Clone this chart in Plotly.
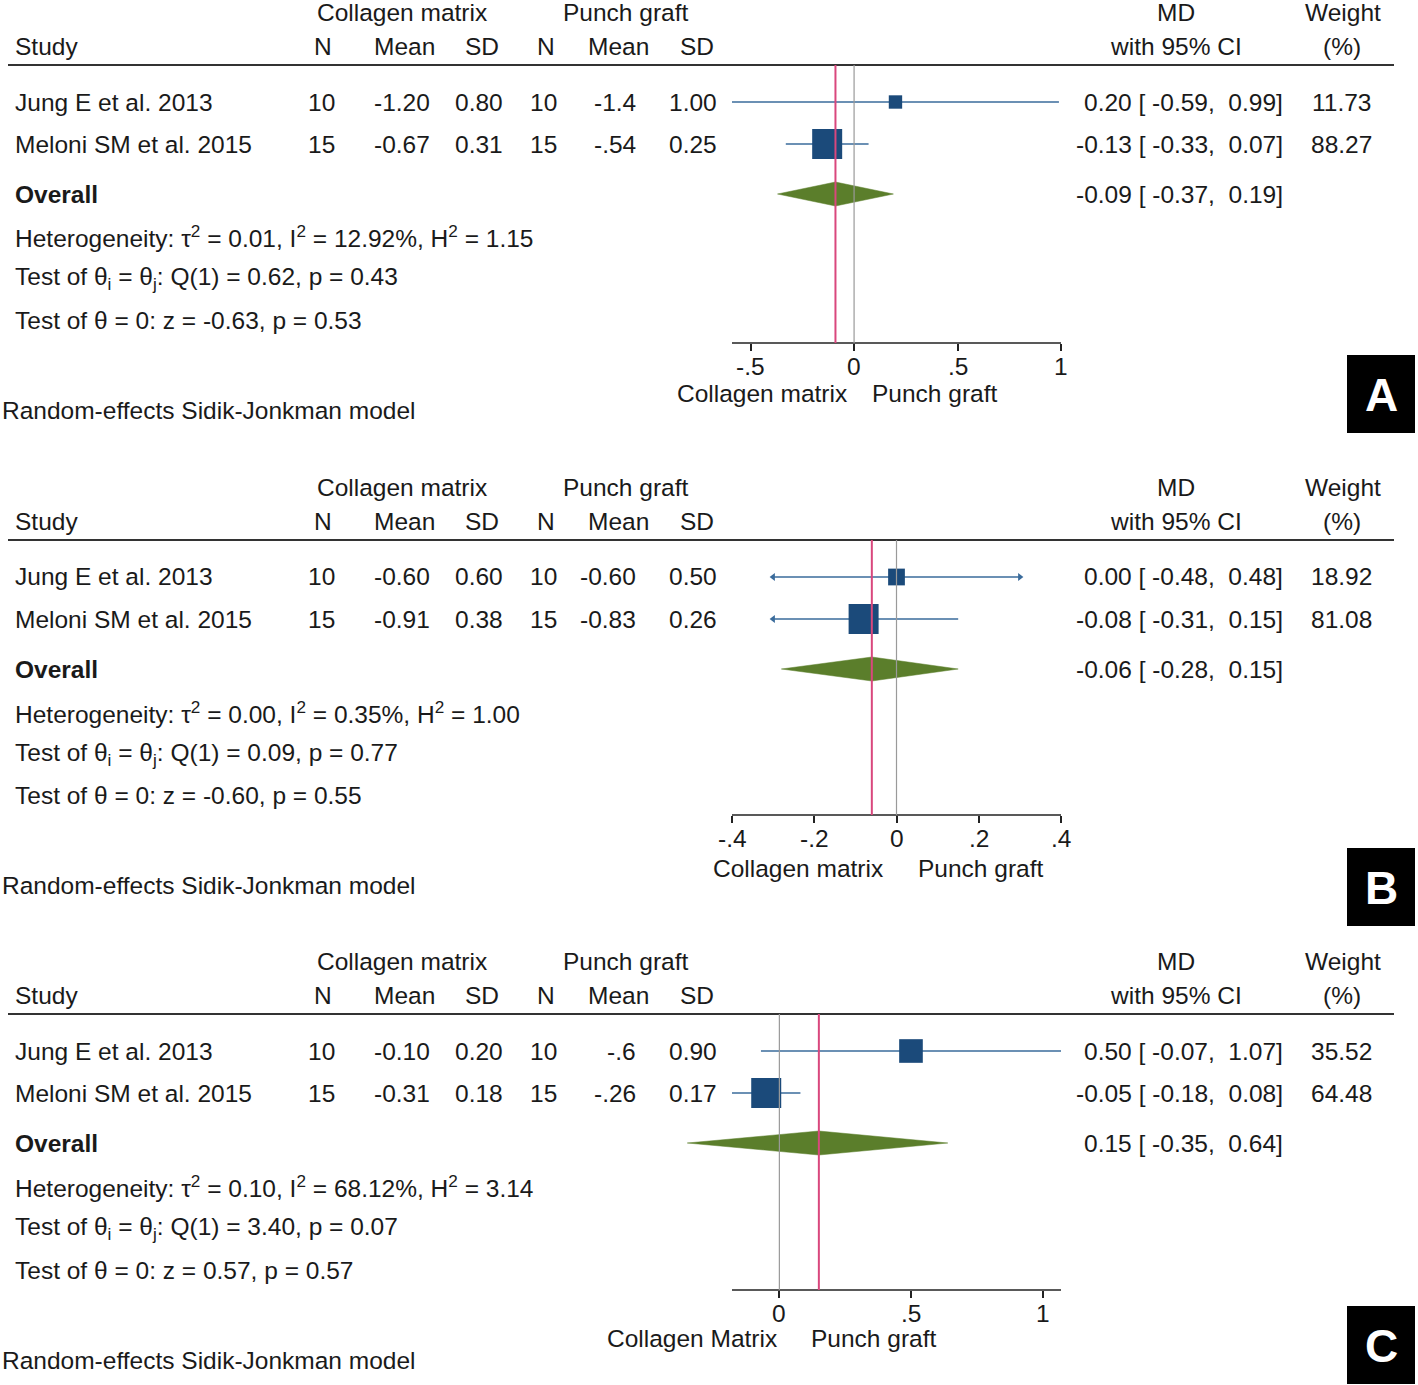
import plotly.graph_objects as go

W, H = 1418, 1385
FONT = "Liberation Sans, Arial, Helvetica, sans-serif"
TXT = "#1a1a1a"
FS = 24.5

# ---------------- data ----------------
studies = ["Jung E et al. 2013", "Meloni SM et al. 2015"]
panel_letters = ["A", "B", "C"]

cm_n = [[10, 15], [10, 15], [10, 15]]
cm_mean = [["-1.20", "-0.67"], ["-0.60", "-0.91"], ["-0.10", "-0.31"]]
cm_sd = [["0.80", "0.31"], ["0.60", "0.38"], ["0.20", "0.18"]]
pg_n = [[10, 15], [10, 15], [10, 15]]
pg_mean = [["-1.4", "-.54"], ["-0.60", "-0.83"], ["-.6", "-.26"]]
pg_sd = [["1.00", "0.25"], ["0.50", "0.26"], ["0.90", "0.17"]]

md = [[0.20, -0.13], [0.00, -0.08], [0.50, -0.05]]
md_lo = [[-0.59, -0.33], [-0.48, -0.31], [-0.07, -0.18]]
md_hi = [[0.99, 0.07], [0.48, 0.15], [1.07, 0.08]]
weights = [[11.73, 88.27], [18.92, 81.08], [35.52, 64.48]]

overall = [-0.09, -0.06, 0.15]
overall_lo = [-0.37, -0.28, -0.35]
overall_hi = [0.19, 0.15, 0.64]

tau2 = ["0.01", "0.00", "0.10"]
i2 = ["12.92", "0.35", "68.12"]
h2 = ["1.15", "1.00", "3.14"]
q_stat = ["0.62", "0.09", "3.40"]
q_p = ["0.43", "0.77", "0.07"]
z_stat = ["-0.63", "-0.60", "0.57"]
z_p = ["0.53", "0.55", "0.57"]

axis_ranges = [[-0.59, 1.0], [-0.4, 0.4], [-0.18, 1.07]]
tick_vals = [[-0.5, 0, 0.5, 1], [-0.4, -0.2, 0, 0.2, 0.4], [0, 0.5, 1]]
tick_text = [["-.5", "0", ".5", "1"], ["-.4", "-.2", "0", ".2", ".4"], ["0", ".5", "1"]]
favours_left = ["Collagen matrix", "Collagen matrix", "Collagen Matrix"]
favours_right = ["Punch graft", "Punch graft", "Punch graft"]
ci_clip = [[-1e9, 1e9], [-0.3, 0.3], [-1e9, 1e9]]

# ---------------- layout constants (pixels) ----------------
rule_y = [65, 540, 1014]
axis_y = [343, 815, 1290]
fav_y = [393, 868, 1338]
model_y = [410, 885, 1360]
box_y = [355, 848, 1306]
fav_shift = [(-5, 16), (-12, 19), (0, 30)]
PLOT_X0, PLOT_X1 = 732, 1061
PAD = 80  # extra drawing room (px) on both sides of the axis line
TPAD = 2  # compensate annotation inner padding


def PX(x):
    return x / W


def PY(y):
    return 1 - y / H


fig = go.Figure()
annotations = []
shapes = []


def txt(x, y, s, anchor="left", size=FS, color=TXT):
    if anchor == "left":
        x -= TPAD
    elif anchor == "right":
        x += TPAD
    annotations.append(dict(
        x=PX(x), y=PY(y), xref="paper", yref="paper", text=s, showarrow=False,
        xanchor=anchor, yanchor="middle", font=dict(family=FONT, size=size, color=color)))


BLUE_LINE = "#3a6b9b"
BLUE_BOX = "#1b4a7a"
GREEN = "#5b7e2b"
PINK = "#d9477d"
GRAY = "#9a9a9a"

for p in range(3):
    r = rule_y[p]
    sfx = "" if p == 0 else str(p + 1)
    xa, ya = "x" + sfx, "y" + sfx
    rows = [r + 37, r + 79]
    row_overall = r + 129

    # headers
    txt(402, r - 53, "Collagen matrix", "center")
    txt(625, r - 53, "Punch graft", "center")
    txt(1176, r - 53, "MD", "center")
    txt(1343, r - 53, "Weight", "center")
    txt(15, r - 19, "Study")
    txt(323, r - 19, "N", "center")
    txt(404, r - 19, "Mean", "center")
    txt(482, r - 19, "SD", "center")
    txt(546, r - 19, "N", "center")
    txt(618, r - 19, "Mean", "center")
    txt(697, r - 19, "SD", "center")
    txt(1176, r - 19, "with 95% CI", "center")
    txt(1342, r - 19, "(%)", "center")
    shapes.append(dict(type="line", xref="paper", yref="paper", x0=PX(8), x1=PX(1394),
                       y0=PY(r), y1=PY(r), line=dict(color="#333333", width=2)))

    # study rows
    for i, s in enumerate(studies):
        y = rows[i]
        txt(15, y, s)
        txt(335, y, str(cm_n[p][i]), "right")
        txt(430, y, cm_mean[p][i], "right")
        txt(503, y, cm_sd[p][i], "right")
        txt(557, y, str(pg_n[p][i]), "right")
        txt(636, y, pg_mean[p][i], "right")
        txt(717, y, pg_sd[p][i], "right")
        txt(1283, y, f"{md[p][i]:.2f} [ {md_lo[p][i]:.2f},\u00a0\u00a0{md_hi[p][i]:.2f}]", "right")
        txt(1372, y, f"{weights[p][i]:.2f}", "right")

    txt(15, row_overall, "<b>Overall</b>")
    txt(1283, row_overall, f"{overall[p]:.2f} [ {overall_lo[p]:.2f},\u00a0\u00a0{overall_hi[p]:.2f}]", "right")
    txt(15, r + 172, f"Heterogeneity: τ<sup>2</sup> = {tau2[p]}, I<sup>2</sup> = {i2[p]}%, H<sup>2</sup> = {h2[p]}")
    txt(15, r + 214, f"Test of θ<sub>i</sub> = θ<sub>j</sub>: Q(1) = {q_stat[p]}, p = {q_p[p]}")
    txt(15, r + 256, f"Test of θ = 0: z = {z_stat[p]}, p = {z_p[p]}")
    txt(2, model_y[p], "Random-effects Sidik-Jonkman model")

    # favours labels
    dl, dr = fav_shift[p]
    annotations.append(dict(x=0, y=PY(fav_y[p]), xref=xa, yref="paper", text=favours_left[p],
                            showarrow=False, xanchor="right", yanchor="middle", xshift=dl,
                            font=dict(family=FONT, size=FS, color=TXT)))
    annotations.append(dict(x=0, y=PY(fav_y[p]), xref=xa, yref="paper", text=favours_right[p],
                            showarrow=False, xanchor="left", yanchor="middle", xshift=dr,
                            font=dict(family=FONT, size=FS, color=TXT)))

    # tick labels
    for tv, tt in zip(tick_vals[p], tick_text[p]):
        annotations.append(dict(x=tv, y=PY(axis_y[p] + 23), xref=xa, yref="paper", text=tt,
                                showarrow=False, xanchor="center", yanchor="middle",
                                font=dict(family=FONT, size=FS, color=TXT)))

    # axis line
    lo_ax, hi_ax = axis_ranges[p]
    shapes.append(dict(type="line", xref=xa, yref="paper", x0=lo_ax, x1=hi_ax,
                       y0=PY(axis_y[p]), y1=PY(axis_y[p]), line=dict(color="#222222", width=1.5)))

    # letter box
    shapes.append(dict(type="rect", xref="paper", yref="paper", x0=PX(1347), x1=PX(1415),
                       y0=PY(box_y[p] + 78), y1=PY(box_y[p]), fillcolor="black", line=dict(width=0)))
    annotations.append(dict(x=PX(1381), y=PY(box_y[p] + 40), xref="paper", yref="paper",
                            text=f"<b>{panel_letters[p]}</b>", showarrow=False, xanchor="center",
                            yanchor="middle", font=dict(family=FONT, size=46, color="white")))

    # CI lines & arrows
    wmax = max(weights[p])
    for i in range(2):
        lo = max(md_lo[p][i], ci_clip[p][0])
        hi = min(md_hi[p][i], ci_clip[p][1])
        fig.add_trace(go.Scatter(x=[lo, hi], y=[rows[i], rows[i]], mode="lines", xaxis=xa, yaxis=ya,
                                 line=dict(color=BLUE_LINE, width=1.6), showlegend=False, hoverinfo="skip"))
        if md_lo[p][i] < ci_clip[p][0]:
            fig.add_trace(go.Scatter(x=[lo], y=[rows[i]], mode="markers", xaxis=xa, yaxis=ya,
                                     marker=dict(symbol="triangle-left", size=7, color=BLUE_LINE, opacity=1),
                                     showlegend=False, hoverinfo="skip"))
        if md_hi[p][i] > ci_clip[p][1]:
            fig.add_trace(go.Scatter(x=[hi], y=[rows[i]], mode="markers", xaxis=xa, yaxis=ya,
                                     marker=dict(symbol="triangle-right", size=7, color=BLUE_LINE, opacity=1),
                                     showlegend=False, hoverinfo="skip"))
    sizes = [30 * (w / wmax) ** 0.4 for w in weights[p]]
    fig.add_trace(go.Scatter(x=md[p], y=rows, mode="markers", xaxis=xa, yaxis=ya,
                             marker=dict(symbol="square", size=sizes, color=BLUE_BOX, opacity=1,
                                         line=dict(width=0)),
                             showlegend=False, hoverinfo="skip"))
    # diamond
    hh = 12
    fig.add_trace(go.Scatter(
        x=[overall_lo[p], overall[p], overall_hi[p], overall[p], overall_lo[p]],
        y=[row_overall, row_overall - hh, row_overall, row_overall + hh, row_overall],
        mode="lines", fill="toself", fillcolor=GREEN, line=dict(color=GREEN, width=0.5),
        xaxis=xa, yaxis=ya, showlegend=False, hoverinfo="skip"))

    # reference lines
    shapes.append(dict(type="line", xref=xa, yref=ya + " domain", x0=0, x1=0, y0=0, y1=1,
                       line=dict(color=GRAY, width=1.2), layer="above"))
    shapes.append(dict(type="line", xref=xa, yref=ya + " domain", x0=overall[p], x1=overall[p],
                       y0=0, y1=1, line=dict(color=PINK, width=2), layer="above"))

    # x axis: display range widened by PAD px on both sides, same scale
    upx = (hi_ax - lo_ax) / (PLOT_X1 - PLOT_X0)
    disp = [lo_ax - PAD * upx, hi_ax + PAD * upx]
    axis_key = "xaxis" + sfx
    yaxis_key = "yaxis" + sfx
    fig.update_layout({
        axis_key: dict(domain=[PX(PLOT_X0 - PAD), PX(PLOT_X1 + PAD)], range=disp, anchor=ya,
                       showline=False, ticks="outside", ticklen=7, tickwidth=1.5,
                       tickcolor="#222222", tickvals=tick_vals[p], showticklabels=False,
                       showgrid=False, zeroline=False, fixedrange=True),
        yaxis_key: dict(domain=[PY(axis_y[p]), PY(r)], range=[axis_y[p], r], anchor=xa,
                        visible=False, fixedrange=True),
    })

fig.update_layout(width=W, height=H, margin=dict(l=0, r=0, t=0, b=0, pad=0, autoexpand=False),
                  paper_bgcolor="white", plot_bgcolor="rgba(0,0,0,0)",
                  annotations=annotations, shapes=shapes, showlegend=False)
fig.write_html("out.html", config={"displayModeBar": False},
               post_script="document.body.style.margin='0px';document.body.style.overflow='hidden';")
